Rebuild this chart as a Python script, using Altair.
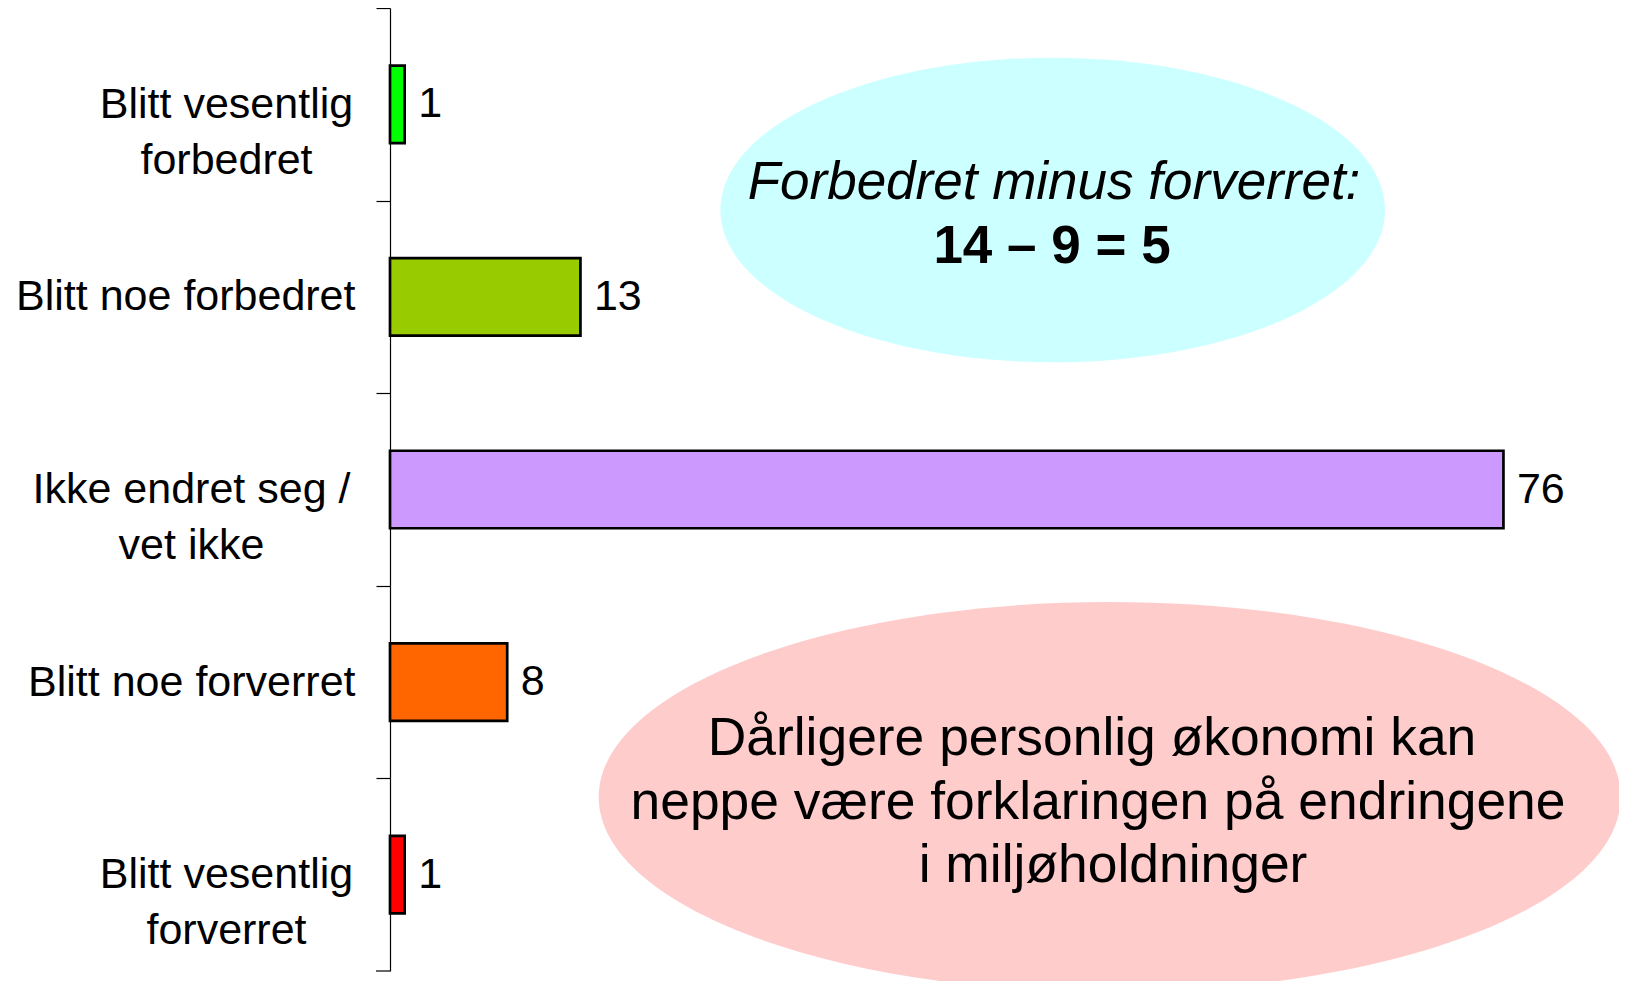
import altair as alt
import pandas as pd

# ---- data ----
categories = [
    "Blitt vesentlig\nforbedret",
    "Blitt noe forbedret",
    "Ikke endret seg /\nvet ikke",
    "Blitt noe forverret",
    "Blitt vesentlig\nforverret",
]
values = [1, 13, 76, 8, 1]
colors = ["#00FF00", "#99CC00", "#CC99FF", "#FF6600", "#FF0000"]

note_top_line1 = ["Forbedret minus forverret:"]
note_top_line2 = ["14 – 9 = 5"]
note_bottom_lines = [
    "Dårligere personlig økonomi kan",
    "neppe være forklaringen på endringene",
    "i miljøholdninger",
]

df = pd.DataFrame({"cat": categories, "val": values})

FONT = "Liberation Sans"
H = 963
W = 1216
STEP = H / len(categories)


def ellipse_path(r):
    k = 0.5523
    return (
        f"M 1 0 C 1 {k*r:.4f} {k:.4f} {r:.4f} 0 {r:.4f} "
        f"C {-k:.4f} {r:.4f} -1 {k*r:.4f} -1 0 "
        f"C -1 {-k*r:.4f} {-k:.4f} {-r:.4f} 0 {-r:.4f} "
        f"C {k:.4f} {-r:.4f} 1 {-k*r:.4f} 1 0 Z"
    )


one = pd.DataFrame({"k": [0]})

ell_top = alt.Chart(one).mark_point(
    shape=ellipse_path(152.3 / 332.3), filled=True, fill="#CCFFFF",
    opacity=1, strokeWidth=0, size=(2 * 332.3) ** 2,
).encode(x=alt.value(662.7), y=alt.value(202))

ell_bot = alt.Chart(one).mark_point(
    shape=ellipse_path(195 / 511), filled=True, fill="#FFCCCC",
    opacity=1, strokeWidth=0, size=(2 * 511) ** 2,
).encode(x=alt.value(719.7), y=alt.value(789))

y_enc = alt.Y(
    "cat:N",
    sort=categories,
    scale=alt.Scale(paddingInner=0, paddingOuter=0),
    axis=alt.Axis(
        title=None,
        domainColor="black",
        domainWidth=1.2,
        tickColor="black",
        tickWidth=1.2,
        tickSize=14,
        tickOffset=-STEP / 2,
        labelOffset=STEP / 2,
        labelFont=FONT,
        labelFontSize=43,
        labelColor="black",
        labelLineHeight=56,
        labelBaseline="middle",
        labelLimit=600,
        labelExpr="split(datum.label, '\\n')",
        labelAlign={
            "condition": {"test": "indexof(datum.value, '\\n') >= 0", "value": "center"},
            "value": "right",
        },
        labelPadding={
            "condition": [
                {"test": "indexof(datum.value, 'Ikke') == 0", "value": 185},
                {"test": "indexof(datum.value, '\\n') >= 0", "value": 150},
            ],
            "value": 21,
        },
    ),
)

x_enc = alt.X("val:Q", scale=alt.Scale(domain=[0, 83], nice=False), axis=None)

bars = alt.Chart(df).mark_bar(size=77.5, stroke="black", strokeWidth=2.7).encode(
    x=x_enc,
    y=y_enc,
    color=alt.Color("cat:N", scale=alt.Scale(domain=categories, range=colors), legend=None),
)

labels = alt.Chart(df).mark_text(
    align="left", baseline="middle", dx=13.5, font=FONT, fontSize=43, color="black"
).encode(x=x_enc, y=alt.Y("cat:N", sort=categories), text="val:Q")

# closing tick at the bottom end of the category axis
end_tick = alt.Chart(one).mark_rule(color="black", strokeWidth=1.2).encode(
    x=alt.value(-14), x2=alt.value(0), y=alt.value(H)
)

t1 = alt.Chart(pd.DataFrame({"t": note_top_line1})).mark_text(
    font=FONT, fontSize=53, fontStyle="italic", align="center", baseline="alphabetic", color="black"
).encode(x=alt.value(664), y=alt.value(191), text="t:N")

t2 = alt.Chart(pd.DataFrame({"t": note_top_line2})).mark_text(
    font=FONT, fontSize=53, fontWeight="bold", align="center", baseline="alphabetic", color="black"
).encode(x=alt.value(662), y=alt.value(254.5), text="t:N")

bottom_layers = []
bx = [702, 708, 723]
by = [747, 811, 874]
for i, line in enumerate(note_bottom_lines):
    bottom_layers.append(
        alt.Chart(pd.DataFrame({"t": [line]})).mark_text(
            font=FONT, fontSize=53.4, align="center", baseline="alphabetic", color="black"
        ).encode(x=alt.value(bx[i]), y=alt.value(by[i]), text="t:N")
    )

chart = alt.layer(ell_top, ell_bot, bars, labels, end_tick, t1, t2, *bottom_layers).properties(
    width=W,
    height=H,
    autosize=alt.AutoSizeParams(type="none"),
    padding={"left": 382, "top": 0, "right": 13, "bottom": 10},
).configure_view(stroke=None)

chart.save("out.html", embed_options={"renderer": "svg", "actions": False})
